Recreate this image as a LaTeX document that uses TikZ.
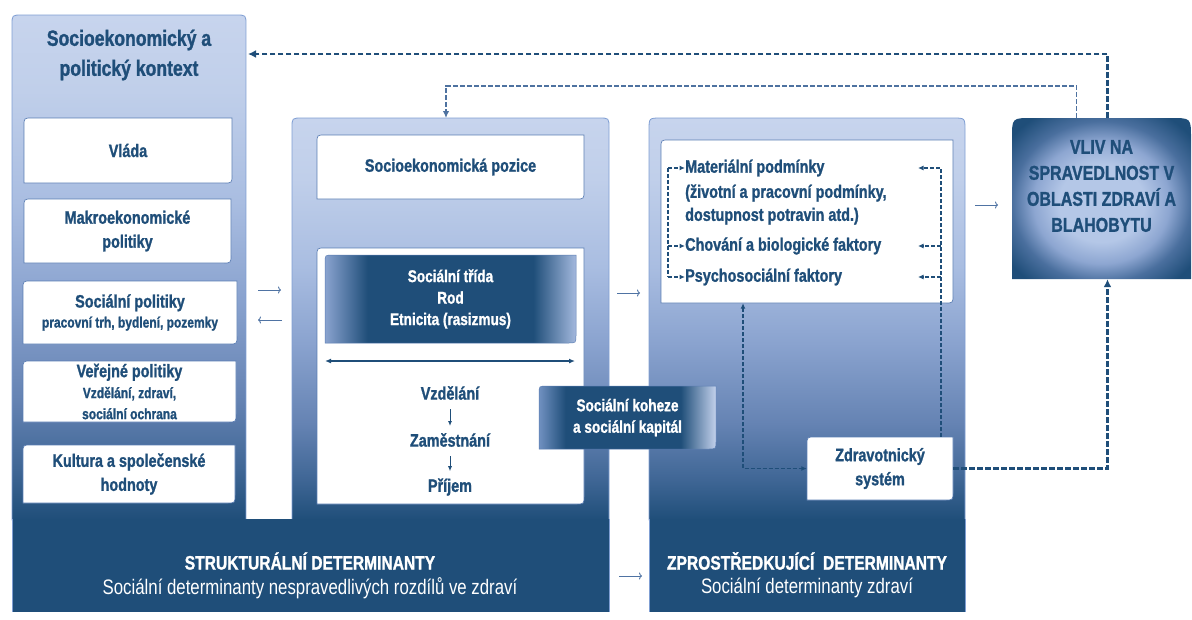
\documentclass[tikz,border=0pt]{standalone}
\usepackage{fontspec}
\setmainfont{Liberation Sans}[FakeStretch=0.8, BoldFeatures={FakeBold=1.2}]
\usetikzlibrary{arrows.meta}

\definecolor{ddark}{HTML}{1F4E79}
\definecolor{pa}{HTML}{3F6695}
\definecolor{pb}{HTML}{6583B3}
\definecolor{pc}{HTML}{8AA3CF}
\definecolor{pd}{HTML}{A9BDE1}
\definecolor{pe}{HTML}{C0CFEA}
\definecolor{pf}{HTML}{C7D4ED}
\definecolor{panelline}{HTML}{7F9ED3}
\definecolor{boxline}{HTML}{5A7DB3}
\definecolor{flowblue}{HTML}{4F73A3}
\definecolor{dashlight}{HTML}{4E72A0}
\definecolor{vlight}{HTML}{B4C7E7}
\definecolor{vmid}{HTML}{8DA6D1}
\definecolor{vdeep}{HTML}{4A6F9E}
\definecolor{edgea}{HTML}{8AA3CF}
\definecolor{edgeb}{HTML}{A3B8DD}
\definecolor{edgec}{HTML}{7090C0}
\definecolor{edged}{HTML}{C3D1EC}

% the box of a path is mapped on 25bp..75bp of these shadings
\pgfdeclareverticalshading{panelshade}{100bp}{color(0bp)=(ddark); color(25bp)=(ddark); color(30bp)=(pa); color(37bp)=(pb); color(47bp)=(pc); color(56.5bp)=(pd); color(67.5bp)=(pe); color(75bp)=(pf); color(100bp)=(pf)}
\pgfdeclarehorizontalshading{classshade}{100bp}{color(0bp)=(edgea); color(25bp)=(edgea); color(33.5bp)=(ddark); color(66.5bp)=(ddark); color(75bp)=(edgeb); color(100bp)=(edgeb)}
\pgfdeclarehorizontalshading{cohshade}{100bp}{color(0bp)=(edgec); color(25bp)=(edgec); color(32.5bp)=(ddark); color(65bp)=(ddark); color(75bp)=(edged); color(100bp)=(edged)}
\pgfdeclareradialshading{vlivshade}{\pgfpoint{0bp}{-2bp}}{color(0bp)=(vlight); color(12bp)=(vlight); color(19bp)=(vmid); color(25bp)=(vdeep); color(32bp)=(ddark); color(50bp)=(ddark)}

\newcommand{\smalltxt}{\fontsize{15}{20}\selectfont}
% box with rounded top-left and bottom-right corner, then its node
\newcommand{\cboxnode}[7]{%
  \path[#2] (#3,#6) -- (#3,#4+8) .. controls (#3,#4) .. (#3+8,#4) -- (#5,#4) -- (#5,#6-8) .. controls (#5,#6) .. (#5-8,#6) -- cycle;
  \node[#7, minimum width={#5-#3}, minimum height={#6-#4}] (#1) at ({(#3+#5)/2},{(#4+#6)/2})}

\begin{document}
\begin{tikzpicture}[x=1pt, y=-1pt,
  whitebox/.style={fill=white, draw=boxline, line width=0.7pt},
  boxtxt/.style={text=ddark, font=\bfseries\fontsize{18}{24}\selectfont, align=center, inner sep=0pt},
  lighttxt/.style={text=white, font=\bfseries\fontsize{17}{21.5}\selectfont, align=center, inner sep=0pt},
  listtxt/.style={text=ddark, font=\bfseries\fontsize{18}{23}\selectfont, align=left, inner sep=0pt, anchor=west},
  bandtitle/.style={text=white, font=\bfseries\fontsize{19.5}{24}\selectfont},
  bandsub/.style={text=white, font=\fontsize{21}{25}\selectfont},
  flow/.style={draw=flowblue, line width=0.9pt, -{To[length=3pt,width=7pt]}},
  downarr/.style={draw=ddark, line width=0.9pt, -{Latex[length=5pt,width=4pt]}, shorten <=9pt, shorten >=7pt},
  fbdash/.style={draw=ddark, line width=2.4pt, dash pattern=on 5.5pt off 2.5pt, -{Latex[length=8pt,width=8pt]}},
  fbdash2/.style={draw=dashlight, line width=1.6pt, dash pattern=on 5pt off 2pt, -{Latex[length=7pt,width=6.5pt]}},
  smalldash/.style={draw=ddark, line width=1.3pt, dash pattern=on 4pt off 2pt},
  tip/.style={-{Latex[length=5.5pt,width=5pt]}}
]
\useasboundingbox (0,0) rectangle (1192,619);

% panels
\path[shade, shading=panelshade, draw=panelline, line width=0.8pt] (12,520) -- (12,25) .. controls (12,15) .. (22,15) -- (236,15) .. controls (246,15) .. (246,25) -- (246,520) -- cycle;
\path[shade, shading=panelshade, draw=panelline, line width=0.8pt] (292,520) -- (292,128) .. controls (292,118) .. (302,118) -- (599,118) .. controls (609,118) .. (609,128) -- (609,520) -- cycle;
\path[shade, shading=panelshade, draw=panelline, line width=0.8pt] (649,520) -- (649,130) .. controls (649,118) .. (661,118) -- (953,118) .. controls (965,118) .. (965,130) -- (965,520) -- cycle;
\fill[ddark] (12,519) rectangle (609,612);
\fill[ddark] (649,519) rectangle (965,612);
\draw[panelline, line width=0.8pt] (12,519) -- (12,612) (609,519) -- (609,612) (649,519) -- (649,612) (965,519) -- (965,612);

% context
\node[boxtxt, font=\bfseries\fontsize{22}{30}\selectfont] (ctxtitle) at (129,55) {Socioekonomický a\\politický kontext};
\cboxnode{vlada}{whitebox}{24}{118}{232}{183}{boxtxt} {Vláda};
\cboxnode{makro}{whitebox}{24}{199}{231}{263}{boxtxt} {Makroekonomické\\politiky};
\cboxnode{socpol}{whitebox}{23}{281}{237}{344}{boxtxt} {Sociální politiky\\[-4pt]\smalltxt pracovní trh, bydlení, pozemky};
\cboxnode{verpol}{whitebox}{23}{361}{236}{422}{boxtxt} {Veřejné politiky\\[-3pt]\smalltxt Vzdělání, zdraví,\\[-3pt]\smalltxt sociální ochrana};
\cboxnode{kultura}{whitebox}{23}{445}{235}{503}{boxtxt} {Kultura a společenské\\hodnoty};

% structural
\cboxnode{sepos}{whitebox}{317}{135}{584}{199}{boxtxt} {Socioekonomická pozice};
\cboxnode{posbox}{whitebox}{317}{248}{584}{504}{boxtxt} {};
\cboxnode{trida}{shade, shading=classshade, draw=boxline, line width=0.5pt}{325}{255}{576}{343}{lighttxt} {Sociální třída\\Rod\\Etnicita (rasizmus)};
\coordinate (dl) at (325,361);
\coordinate (dr) at (575,361);
\draw[ddark, line width=1.5pt, {Latex[length=6pt,width=5pt]}-{Latex[length=6pt,width=5pt]}] (dl) -- (dr);
\node[boxtxt] (vzd) at (450,393) {Vzdělání};
\node[boxtxt] (zam) at (450,440) {Zaměstnání};
\node[boxtxt] (prij) at (450,487) {Příjem};
\draw[downarr] (vzd) -- (zam);
\draw[downarr] (zam) -- (prij);
\cboxnode{koheze}{shade, shading=cohshade, draw=boxline, line width=0.5pt}{539}{386}{716}{449}{lighttxt} {Sociální koheze\\a sociální kapitál};

% intermediary
\cboxnode{podm}{whitebox}{661}{140}{953}{303}{boxtxt} {};
\node[listtxt] (mat) at (685,168) {Materiální podmínky};
\node[listtxt] (matsub) at (685,204.5) {(životní a pracovní podmínky,\\dostupnost potravin atd.)};
\node[listtxt] (chov) at (685,246) {Chování a biologické faktory};
\node[listtxt] (psy) at (685,277) {Psychosociální faktory};
\cboxnode{zdrav}{whitebox}{807}{437}{953}{500}{boxtxt} {Zdravotnický\\systém};

% outcome
\path[shade, shading=vlivshade] (1012,279) -- (1012,138) .. controls (1012,118) .. (1032,118) -- (1171,118) .. controls (1191,118) .. (1191,138) -- (1191,279) -- cycle;
\node[minimum width=179, minimum height=161, inner sep=0pt] (vliv) at (1101.5,198.5) {};
\node[boxtxt, font=\bfseries\fontsize{20}{26}\selectfont] (vlivtxt) at (1101.5,186) {VLIV NA\\SPRAVEDLNOST V\\OBLASTI ZDRAVÍ A\\BLAHOBYTU};

% bands
\node[bandtitle] (structitle) at (310,561) {STRUKTURÁLNÍ DETERMINANTY};
\node[bandsub] (structsub) at (310,588) {Sociální determinanty nespravedlivých rozdílů ve zdraví};
\node[bandtitle] (intertitle) at (807,561) {ZPROSTŘEDKUJÍCÍ\ \ DETERMINANTY};
\node[bandsub] (intersub) at (807,588) {Sociální determinanty zdraví};

% brackets in the intermediary box
\coordinate (lb) at (668,0);
\coordinate (rb) at (941,0);
\coordinate (rt) at (918,0);
\coordinate (hs) at (743,0);
\draw[smalldash] (mat -| lb) -- (psy -| lb);
\draw[smalldash, tip] (mat -| lb) -- (mat.west);
\draw[smalldash, tip] (chov -| lb) -- (chov.west);
\draw[smalldash, tip] (psy -| lb) -- (psy.west);
\draw[smalldash, tip] (zdrav.north -| rb) |- (mat -| rt);
\draw[smalldash, tip] (chov -| rb) -- (chov -| rt);
\draw[smalldash, tip] (psy -| rb) -- (psy -| rt);
\draw[smalldash, {Latex[length=5.5pt,width=5pt]}-{Latex[length=5.5pt,width=5pt]}] (podm.south -| hs) |- (zdrav.west);

% feedback
\coordinate (ctxtip) at (248,54);
\coordinate (midtop) at (446,118);
\draw[fbdash] ([xshift=6pt]vliv.north) |- (ctxtip);
\draw[fbdash2] ([xshift=-25pt]vliv.north) -- ++(0,-32) -| (midtop);
\draw[fbdash] (zdrav.east) -| ([xshift=6pt]vliv.south);

% flows between panels
\foreach \x/\y in {258/290, 617/293, 975/205, 619/576}
  \draw[flow] (\x,\y) -- ++(23,0);
\draw[flow] (282,320) -- ++(-24,0);
\end{tikzpicture}
\end{document}
